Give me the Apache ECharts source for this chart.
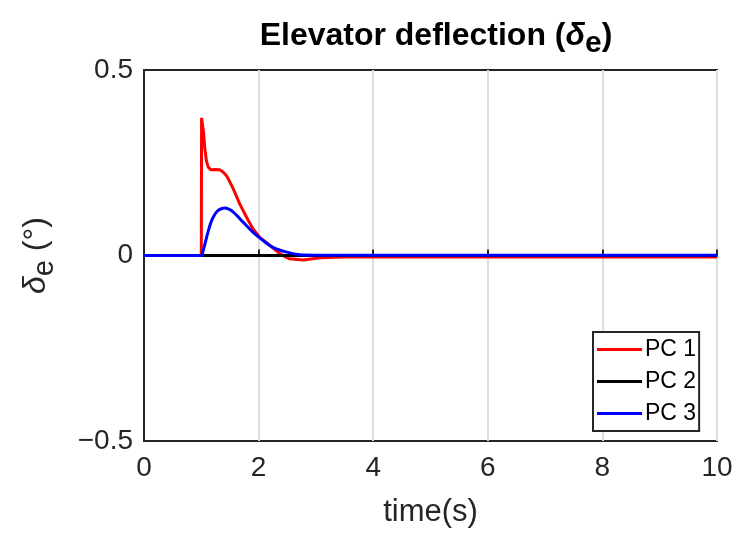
<!DOCTYPE html>
<html>
<head>
<meta charset="utf-8">
<script src="https://cdn.jsdelivr.net/npm/echarts@6/dist/echarts.min.js"></script>
<style>
  html, body { margin: 0; padding: 0; background: #fff; }
  #chart { width: 739px; height: 536px; }
</style>
</head>
<body>
<div id="chart"></div>
<script>
// Elevator deflection response for three pilot commands
const pc1Time = [0, 1.0, 1.005, 1.02, 1.04, 1.06, 1.09, 1.12, 1.17, 1.25, 1.32, 1.38, 1.44, 1.5, 1.56, 1.67, 1.79, 1.9, 2.02, 2.2, 2.37, 2.54, 2.78, 3.07, 3.5, 4.0, 10.0];
const pc1Vals = [0, 0, 0.371, 0.368, 0.33, 0.29, 0.255, 0.238, 0.231, 0.232, 0.231, 0.225, 0.215, 0.198, 0.179, 0.139, 0.103, 0.072, 0.049, 0.027, 0.005, -0.009, -0.012, -0.006, -0.004, -0.004, -0.004];

const pc2Time = [0, 1, 2, 3, 4, 5, 6, 7, 8, 9, 10];
const pc2Vals = [0, 0, 0, 0, 0, 0, 0, 0, 0, 0, 0];

const pc3Time = [0, 1.0, 1.03, 1.063, 1.12, 1.18, 1.24, 1.29, 1.35, 1.41, 1.48, 1.56, 1.73, 1.9, 2.08, 2.25, 2.49, 2.72, 3.0, 4.0, 10.0];
const pc3Vals = [0, 0, 0.012, 0.031, 0.065, 0.094, 0.112, 0.121, 0.126, 0.128, 0.125, 0.117, 0.09, 0.063, 0.04, 0.022, 0.009, 0.002, 0.001, 0.001, 0.001];

const xTicks = [0, 2, 4, 6, 8, 10];
const yTicks = [-0.5, 0, 0.5];

const FONT = '"Liberation Sans", Arial, Helvetica, sans-serif';
const INK = '#262626';

function pairs(ts, vs) { return ts.map((t, i) => [t, vs[i]]); }

const chart = echarts.init(document.getElementById('chart'), null, { renderer: 'canvas' });

chart.setOption({
  animation: false,
  backgroundColor: '#ffffff',
  title: {
    left: 431,
    textAlign: 'center',
    top: 15,
    text: '{a|Elevator deflection (}{d|δ}{s|e}{a|)}',
    textStyle: {
      rich: {
        a: { fontFamily: FONT, fontSize: 32, fontWeight: 'bold', color: '#000', verticalAlign: 'top', lineHeight: 33 },
        d: { fontFamily: FONT, fontSize: 32, fontStyle: 'italic', color: '#000', verticalAlign: 'top', lineHeight: 33 },
        s: { fontFamily: FONT, fontSize: 30, fontWeight: 'bold', color: '#000', verticalAlign: 'top', lineHeight: 33, padding: [9, 0, 0, 0] }
      }
    }
  },
  grid: {
    left: 144, right: 22, top: 70, bottom: 95,
    show: true,
    borderColor: INK,
    borderWidth: 2,
    backgroundColor: 'transparent'
  },
  legend: {
    orient: 'vertical',
    left: 593,
    top: 332,
    padding: [6, 3, 6, 4],
    itemGap: 9,
    itemWidth: 45,
    itemHeight: 3,
    icon: 'rect',
    borderColor: INK,
    borderWidth: 2,
    backgroundColor: '#fff',
    textStyle: { fontFamily: FONT, fontSize: 23, color: '#000', padding: [0, 0, 0, -2] },
    data: ['PC 1', 'PC 2', 'PC 3']
  },
  xAxis: {
    type: 'value',
    min: 0, max: 10, interval: 2,
    name: 'time(s)',
    nameLocation: 'middle',
    nameGap: 56,
    nameTextStyle: { fontFamily: FONT, fontSize: 31, color: INK },
    axisLine: { show: true, lineStyle: { color: INK, width: 2 } },
    axisTick: { show: true, inside: true, length: 6, lineStyle: { color: INK, width: 2 } },
    axisLabel: {
      fontFamily: FONT, fontSize: 28, color: INK, margin: 13,
      customValues: xTicks
    },
    splitLine: { show: true, lineStyle: { color: '#dedede', width: 2 } }
  },
  yAxis: {
    type: 'value',
    min: -0.5, max: 0.5, interval: 0.5,
    name: '{d|δ}{s|e}{a| (°)}',
    nameLocation: 'middle',
    nameRotate: 90,
    nameGap: 90,
    nameTextStyle: {
      rich: {
        a: { fontFamily: FONT, fontSize: 32, color: INK, verticalAlign: 'top', lineHeight: 34 },
        d: { fontFamily: FONT, fontSize: 32, fontStyle: 'italic', color: INK, verticalAlign: 'top', lineHeight: 34 },
        s: { fontFamily: FONT, fontSize: 29, color: INK, verticalAlign: 'top', lineHeight: 34, padding: [10, 0, 0, 0] }
      }
    },
    axisLine: { show: true, lineStyle: { color: INK, width: 2 } },
    axisTick: { show: true, inside: true, length: 6, lineStyle: { color: INK, width: 2 } },
    axisLabel: {
      fontFamily: FONT, fontSize: 28, color: INK, margin: 11,
      customValues: yTicks,
      formatter: v => (v === 0 ? '0' : String(v).replace('-', '\u2212'))
    },
    splitLine: { show: false }
  },
  series: [
    {
      name: 'PC 1', type: 'line', data: pairs(pc1Time, pc1Vals),
      showSymbol: false, symbol: 'none', smooth: false,
      lineStyle: { color: '#ff0000', width: 3 }, itemStyle: { color: '#ff0000' }, z: 3
    },
    {
      name: 'PC 2', type: 'line', data: pairs(pc2Time, pc2Vals),
      showSymbol: false, symbol: 'none',
      lineStyle: { color: '#000000', width: 3 }, itemStyle: { color: '#000000' }, z: 4
    },
    {
      name: 'PC 3', type: 'line', data: pairs(pc3Time, pc3Vals),
      showSymbol: false, symbol: 'none', smooth: 0.3,
      lineStyle: { color: '#0000ff', width: 3 }, itemStyle: { color: '#0000ff' }, z: 5
    }
  ]
});
</script>
</body>
</html>
